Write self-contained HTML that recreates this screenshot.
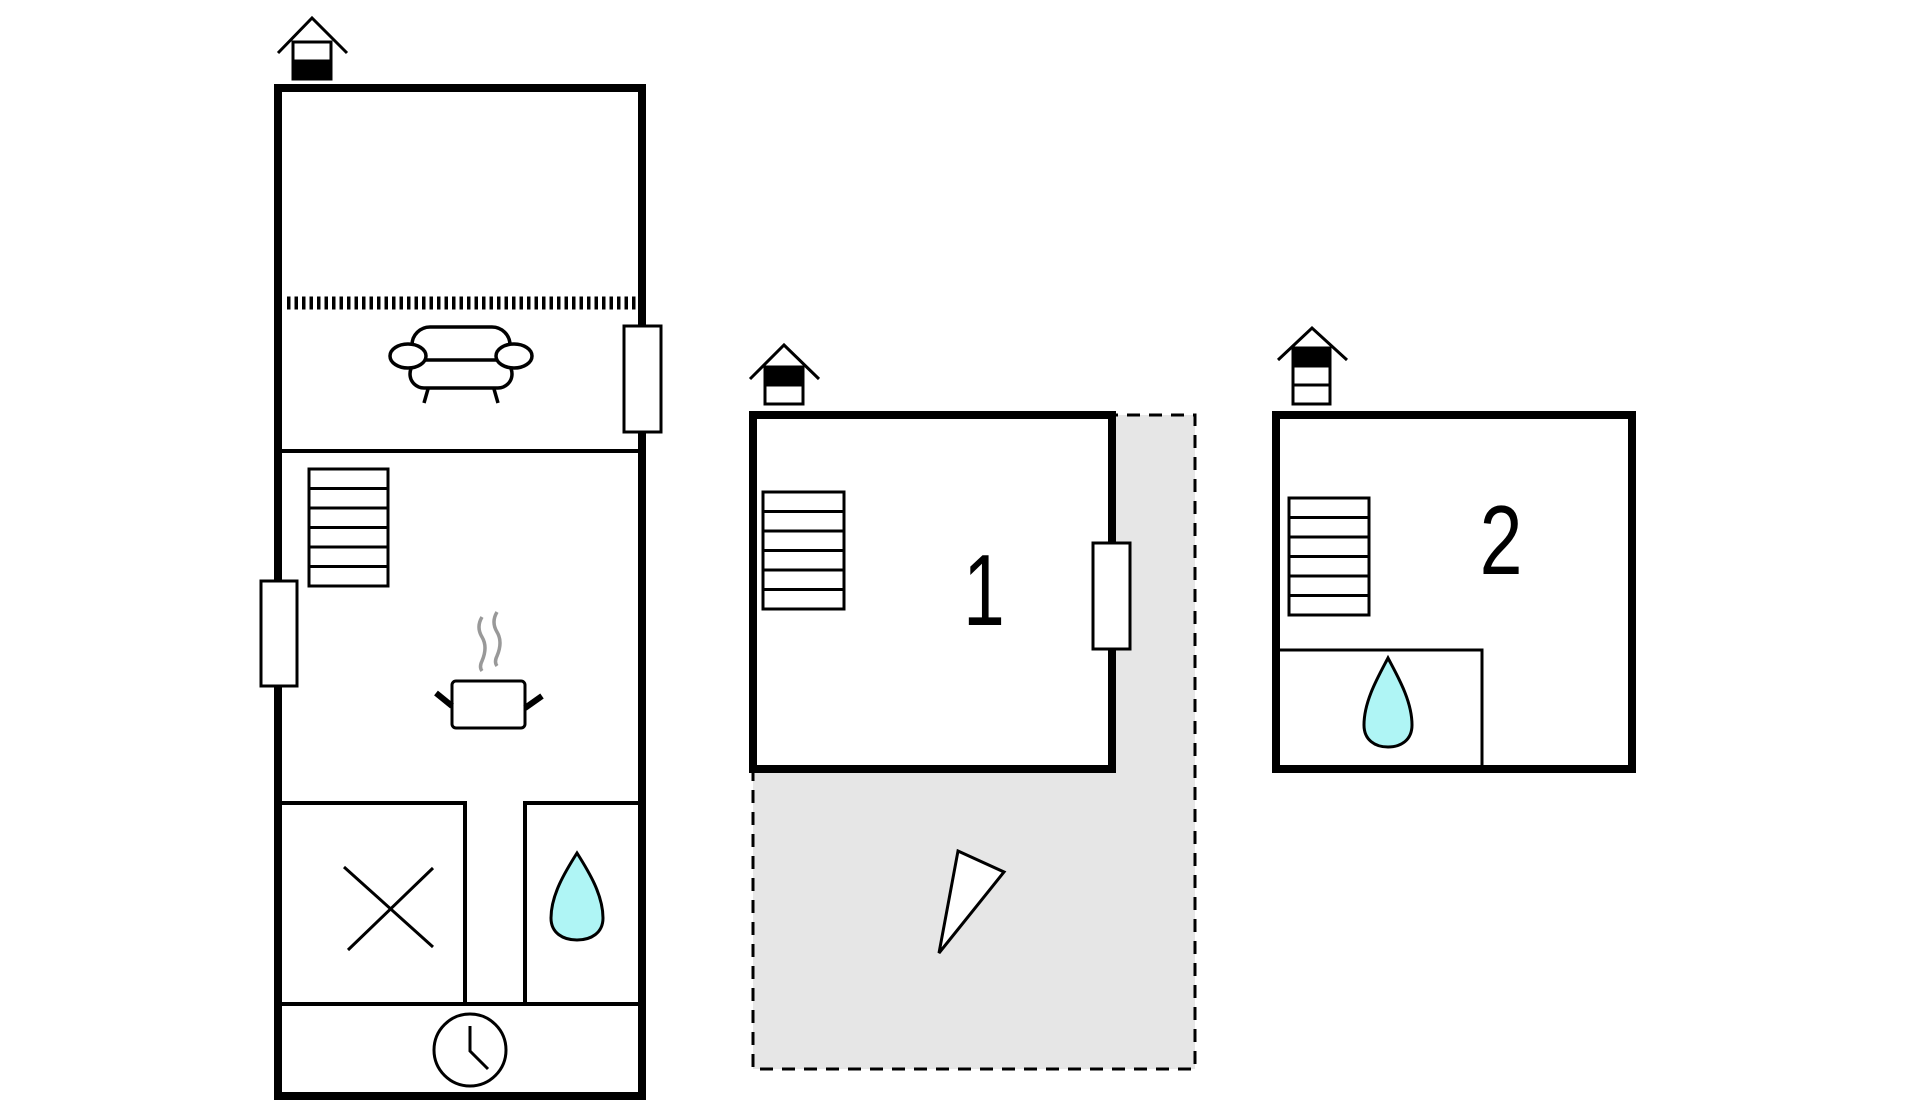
<!DOCTYPE html>
<html><head><meta charset="utf-8"><style>html,body{margin:0;padding:0;background:#fff}svg{display:block}</style></head>
<body>
<svg width="1920" height="1119" viewBox="0 0 1920 1119" xmlns="http://www.w3.org/2000/svg" fill="none" stroke="#000">
<!-- LEFT BUILDING -->
<rect x="278" y="88" width="364" height="1008" stroke-width="8" fill="#fff"/>
<line x1="287" y1="303" x2="636" y2="303" stroke-width="13" stroke-dasharray="3.5,4"/>
<line x1="282" y1="451" x2="638" y2="451" stroke-width="4"/>
<!-- sofa -->
<g stroke-width="3.5" fill="#fff">
<rect x="412" y="327" width="98" height="44" rx="18"/>
<rect x="410" y="360" width="102" height="28" rx="14"/>
<ellipse cx="408" cy="356" rx="18" ry="12"/>
<ellipse cx="514" cy="356" rx="18" ry="12"/>
<line x1="428" y1="389" x2="424" y2="403"/>
<line x1="494" y1="389" x2="498" y2="403"/>
</g>
<rect x="624" y="326" width="37" height="106" stroke-width="3" fill="#fff"/>
<g stroke-width="3" fill="#fff">
<rect x="309" y="469" width="79" height="117"/>
<line x1="309" y1="488.5" x2="388" y2="488.5"/><line x1="309" y1="508" x2="388" y2="508"/><line x1="309" y1="527.5" x2="388" y2="527.5"/><line x1="309" y1="547" x2="388" y2="547"/><line x1="309" y1="566.5" x2="388" y2="566.5"/>
</g>
<rect x="261" y="581" width="36" height="105" stroke-width="3" fill="#fff"/>
<g stroke="#999" stroke-width="3.5"><path d="M482 617 q-6 10 0 20 q6 10 0 24 q-3 6 0 10"/><path d="M497 612 q-6 10 0 20 q6 10 0 24 q-3 6 0 10"/></g>
<rect x="452" y="681" width="73" height="47" rx="4" stroke-width="3" fill="#fff"/>
<line x1="436" y1="693" x2="452" y2="706" stroke-width="6"/>
<line x1="542" y1="696" x2="525" y2="708" stroke-width="6"/>
<g stroke-width="4">
<line x1="282" y1="803" x2="467" y2="803"/><line x1="465" y1="803" x2="465" y2="1004"/>
<line x1="523" y1="803" x2="638" y2="803"/><line x1="525" y1="803" x2="525" y2="1004"/>
<line x1="282" y1="1004" x2="638" y2="1004"/>
</g>
<g stroke-width="3"><line x1="344" y1="867" x2="433" y2="947"/><line x1="433" y1="868" x2="348" y2="950"/></g>
<path d="M577 853 C565 872 551 895 551 918 C551 933 563 940 577 940 C591 940 603 933 603 918 C603 895 589 872 577 853 Z" fill="#aff5f5" stroke-width="3"/>
<circle cx="470" cy="1050" r="36" stroke-width="3" fill="#fff"/>
<polyline points="470,1026 470,1051 488,1069" stroke-width="3"/>
<g stroke-width="3"><polyline points="278,53 312,18 347,53"/><rect x="293" y="42" width="38" height="36" fill="#fff"/><rect x="293" y="61" width="38" height="18" fill="#000"/></g>

<!-- MIDDLE BUILDING -->
<g transform="translate(-4,-2)">
<rect x="757" y="417" width="442" height="654" fill="#e6e6e6" stroke-width="3" stroke-dasharray="13,9"/>
<rect x="757" y="417" width="359" height="354" stroke-width="8" fill="#fff"/>
<rect x="1097" y="545" width="37" height="106" stroke-width="3" fill="#fff"/>
<g stroke-width="3" fill="#fff">
<rect x="767" y="494" width="81" height="117"/>
<line x1="767" y1="513.5" x2="848" y2="513.5"/><line x1="767" y1="533" x2="848" y2="533"/><line x1="767" y1="552.5" x2="848" y2="552.5"/><line x1="767" y1="572" x2="848" y2="572"/><line x1="767" y1="591.5" x2="848" y2="591.5"/>
</g>
<text transform="translate(988,627) scale(0.78,1.05)" font-family="Liberation Sans, sans-serif" font-size="96" fill="#000" stroke="none" text-anchor="middle">1</text>
<polygon points="962,853 1008,874 943,955" fill="#fff" stroke-width="3"/>
<g stroke-width="3"><polyline points="754,381 788,347 823,381"/><rect x="769" y="369" width="38" height="37" fill="#fff"/><rect x="769" y="369" width="38" height="18" fill="#000"/></g>
</g>

<!-- RIGHT BUILDING -->
<g transform="translate(-7,-2)">
<rect x="1283" y="417" width="356" height="354" stroke-width="8" fill="#fff"/>
<rect x="1285" y="652" width="204" height="117" stroke-width="3" fill="none"/>
<g stroke-width="3" fill="#fff">
<rect x="1296" y="500" width="80" height="117"/>
<line x1="1296" y1="519.5" x2="1376" y2="519.5"/><line x1="1296" y1="539" x2="1376" y2="539"/><line x1="1296" y1="558.5" x2="1376" y2="558.5"/><line x1="1296" y1="578" x2="1376" y2="578"/><line x1="1296" y1="597.5" x2="1376" y2="597.5"/>
</g>
<text transform="translate(1508,576) scale(0.82,1.05)" font-family="Liberation Sans, sans-serif" font-size="94" fill="#000" stroke="none" text-anchor="middle">2</text>
<path d="M1395 660 C1385 679 1371 703 1371 727 C1371 742 1382 749 1395 749 C1408 749 1419 742 1419 727 C1419 703 1405 679 1395 660 Z" fill="#aff5f5" stroke-width="3"/>
<g stroke-width="3"><polyline points="1285,362 1319,330 1354,362"/><rect x="1300" y="350" width="37" height="56" fill="#fff"/><rect x="1300" y="350" width="37" height="18" fill="#000"/><line x1="1300" y1="387" x2="1337" y2="387"/></g>
</g>
</svg>
</body></html>
